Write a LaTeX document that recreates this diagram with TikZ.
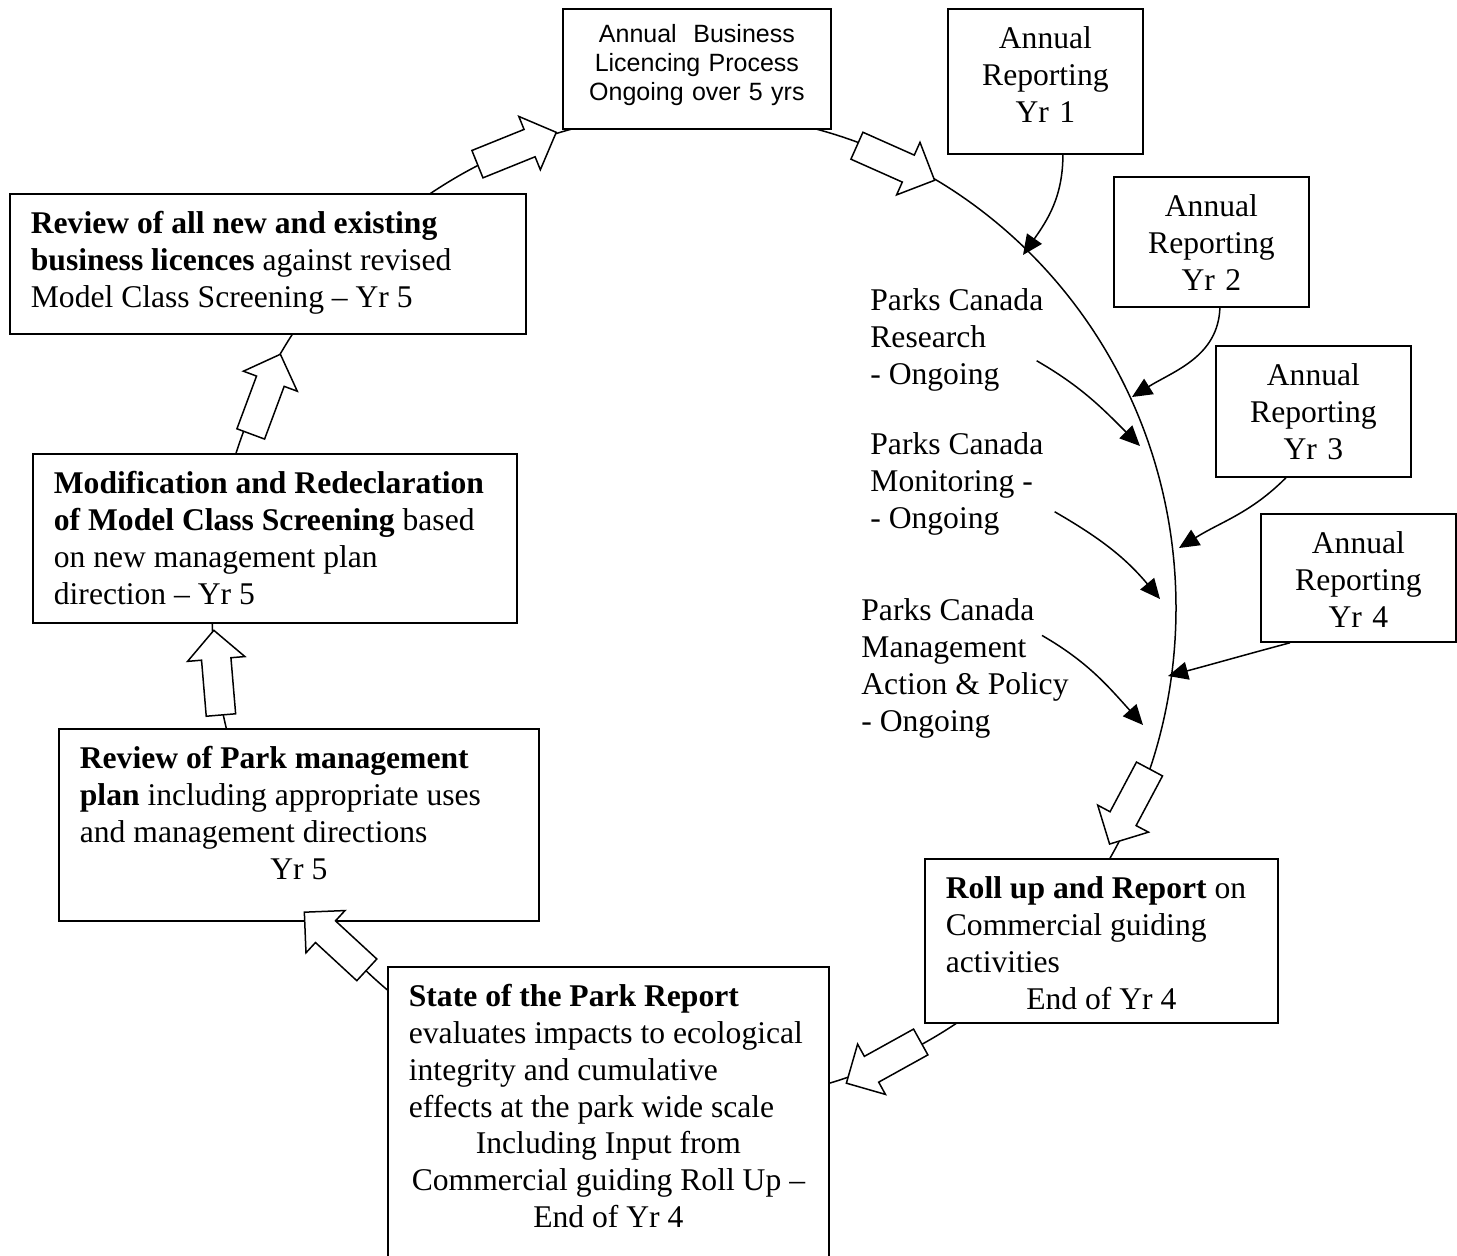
\documentclass[tikz,border=0pt]{standalone}
\usepackage{fontspec}
\setmainfont{Liberation Serif}
\newfontfamily\arialfont{Liberation Sans}
\usetikzlibrary{arrows.meta, shapes.arrows}

\begin{document}
\begin{tikzpicture}[x=0.5pt, y=0.5pt,
    box/.style = {draw, line width=0.9pt, fill=white, anchor=north west, align=flush left,
                  inner xsep=10.5pt, inner ysep=9pt, text height=11pt,
                  font=\fontsize{15.8}{18.35}\selectfont},
    yrbox/.style = {box, align=center, text width=76.5pt},
    note/.style = {anchor=base west, align=left, inner sep=0pt,
                   font=\fontsize{15.8}{18.35}\selectfont},
    feed/.style = {line width=0.75pt, -{Triangle[length=10pt,width=9pt]}},
    SA/.style = {single arrow, draw, line width=0.75pt, fill=white,
                 minimum height=42.5pt, inner sep=0pt, inner ysep=7pt,
                 single arrow head extend=7pt} ]

\useasboundingbox (0,0) rectangle (1457,-1255);

% the cycle
\draw[line width=0.75pt] (694,-608) ellipse [x radius=241pt, y radius=247.5pt];

% boxes round the cycle
\node[box, align=center, text width=124pt, inner xsep=5pt, inner ysep=8pt,
      text height=9pt, text depth=35pt,
      font=\arialfont\fontsize{12.5}{14.3}\selectfont] (lic) at (562,-8)
      {Annual\ \ Business\\Licencing Process\\Ongoing over 5 yrs};

\node[box, text width=237pt, text depth=41pt] (rev) at (9,-193)
  {\textbf{Review of all new and existing}\\
   \textbf{business licences} against revised\\
   Model Class Screening -- Yr 5};

\node[box, text width=221pt, text depth=55.5pt] (mod) at (32,-453)
  {\textbf{Modification and Redeclaration}\\
   \textbf{of Model Class Screening} based\\
   on new management plan\\
   direction -- Yr 5};

\node[box, text width=219pt, text depth=67pt] (plan) at (58,-728)
  {\textbf{Review of Park management}\\
   \textbf{plan} including appropriate uses\\
   and management directions\par
   \centerline{Yr 5}};

\node[box, text width=155.5pt, text depth=53pt] (roll) at (924,-858)
  {\textbf{Roll up and Report} on\\
   Commercial guiding\\
   activities\par
   \centerline{End of Yr 4}};

\node[box, text width=199.5pt, text depth=118pt] (sotp) at (387,-966)
  {\textbf{State of the Park Report}\\
   evaluates impacts to ecological\\
   integrity and cumulative\\
   effects at the park wide scale\par
   \centerline{Including Input from}
   \centerline{Commercial guiding Roll Up --}
   \centerline{End of Yr 4}};

% yearly reports
\node[yrbox, text depth=43.5pt] (yr1) at (947,-8)    {Annual\\Reporting\\Yr 1};
\node[yrbox, text depth=36pt]   (yr2) at (1113,-176) {Annual\\Reporting\\Yr 2};
\node[yrbox, text depth=36.5pt] (yr3) at (1215,-345) {Annual\\Reporting\\Yr 3};
\node[yrbox, text depth=35pt]   (yr4) at (1260,-513) {Annual\\Reporting\\Yr 4};

% ongoing inputs (base = last line)
\node[note] (res) at (870,-384) {Parks Canada\\Research\\- Ongoing};
\node[note] (mon) at (870,-528) {Parks Canada\\Monitoring -\\- Ongoing};
\node[note] (mgt) at (861,-731) {Parks Canada\\Management\\Action \& Policy\\- Ongoing};

% where they meet the cycle
\coordinate (p1) at (1023,-255);
\coordinate (p2) at (1132,-397);
\coordinate (p3) at (1179,-548);
\coordinate (p4) at (1168,-676);
\coordinate (q1) at (1140,-446);
\coordinate (q2) at (1160,-599);
\coordinate (q3) at (1143,-725);

\draw[feed] ([xshift=8.75pt]yr1.south)   to[out=-90,in=55]   (p1);
\draw[feed] ([xshift=4.25pt]yr2.south)   to[out=-92,in=32]   (p2);
\draw[feed] ([xshift=-13.75pt]yr3.south) to[out=-135,in=32]  (p3);
\draw[feed] ([xshift=-34.25pt]yr4.south) to[out=-165,in=15]  (p4);
\draw[feed] ([shift={(-7,-21)}]res.east) to[out=-30,in=135]  (q1);
\draw[feed] ([shift={(11,-28)}]mon.east) to[out=-30,in=130]  (q2);
\draw[feed] ([shift={(-27,33)}]mgt.east) to[out=-30,in=132]  (q3);

% block arrows on the cycle
\node[SA, rotate=22]    (a1) at (510,-151)  {};
\node[SA, rotate=-24]   (a2) at (889,-160)  {};
\node[SA, rotate=-118]  (a7) at (1133,-800) {};
\node[SA, rotate=-151]  (a6) at (890,-1059) {};
\node[SA, rotate=137.3] (a5) at (341,-946)  {};
\node[SA, rotate=94.8]  (a4) at (218,-680)  {};
\node[SA, rotate=69.6]  (a3) at (263,-401)  {};
\end{tikzpicture}
\end{document}
